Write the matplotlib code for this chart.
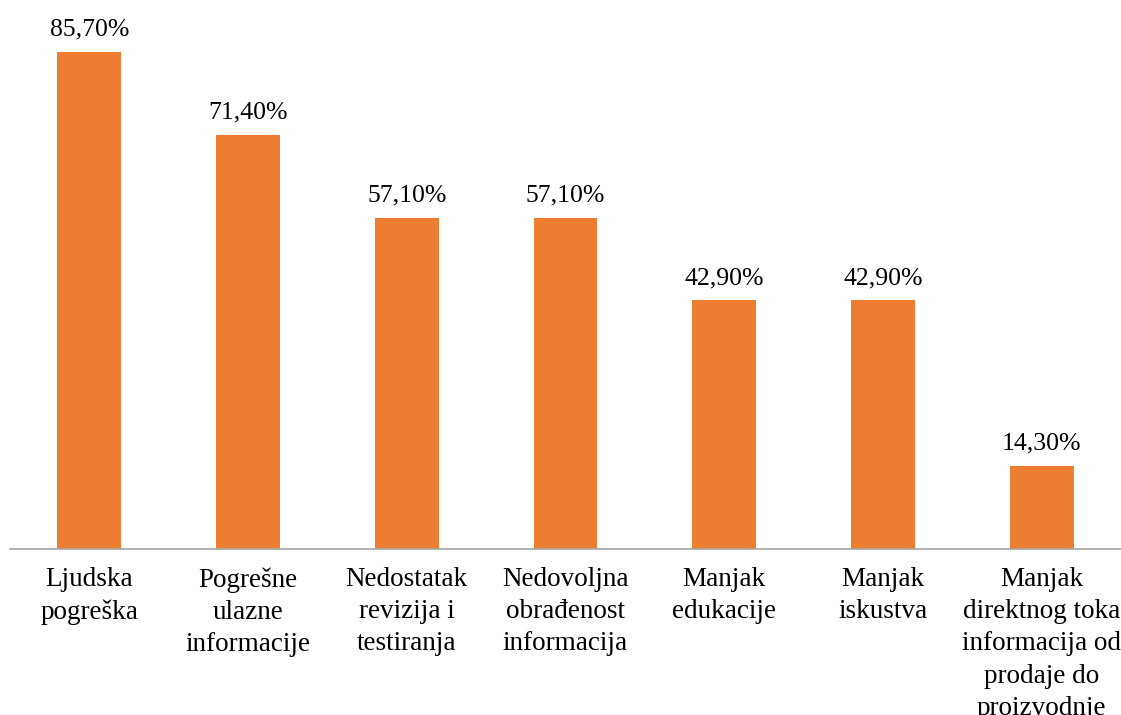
import matplotlib
matplotlib.use("Agg")
import matplotlib.pyplot as plt

plt.rcParams['font.family'] = ['Liberation Serif', 'DejaVu Serif']

# Kategorije i udjeli (%)
kategorije = [
    "Ljudska\npogreška",
    "Pogrešne\nulazne\ninformacije",
    "Nedostatak\nrevizija i\ntestiranja",
    "Nedovoljna\nobrađenost\ninformacija",
    "Manjak\nedukacije",
    "Manjak\niskustva",
    "Manjak\ndirektnog toka\ninformacija od\nprodaje do\nproizvodnje",
]
udjeli = [85.7, 71.4, 57.1, 57.1, 42.9, 42.9, 14.3]

fig = plt.figure(figsize=(11.21, 7.15), dpi=100)
ax = fig.add_axes([10 / 1121, 1 - 549 / 715, 1 - 10 / 1121, 522 / 715])

x = range(len(kategorije))
bars = ax.bar(x, udjeli, width=0.403, color="#ED7D31")

for b, v in zip(bars, udjeli):
    ax.annotate(f"{v:.2f}%".replace(".", ","),
                (b.get_x() + b.get_width() / 2, v),
                xytext=(0, 8), textcoords="offset points",
                ha="center", va="bottom", fontsize=18.5)

ax.set_xlim(-0.5, len(kategorije) - 0.5)
ax.set_ylim(0, 90)
ax.set_xticks(list(x))
ax.set_xticklabels(kategorije, fontsize=19.5, linespacing=1.38, va="top")
ax.tick_params(axis="x", length=0, pad=13)
ax.set_yticks([])

for s in ["top", "right", "left"]:
    ax.spines[s].set_visible(False)
ax.spines["bottom"].set_color("#A6A6A6")
ax.spines["bottom"].set_linewidth(1.2)

fig.savefig("out.png", dpi=100)
